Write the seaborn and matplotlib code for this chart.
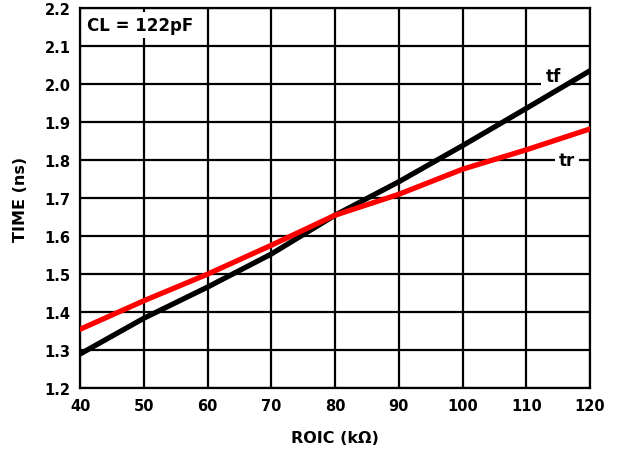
import numpy as np
import pandas as pd
import seaborn as sns
import matplotlib.pyplot as plt

# ROIC (kOhm) and rise / fall times (ns)
roic = [40, 50, 60, 70, 80, 90, 100, 110, 120]
tf = [1.29, 1.384, 1.466, 1.553, 1.655, 1.743, 1.838, 1.936, 2.035]
tr = [1.355, 1.43, 1.50, 1.576, 1.655, 1.71, 1.776, 1.827, 1.882]

df = pd.DataFrame({
    'ROIC': roic * 2,
    'TIME': tf + tr,
    'curve': ['tf'] * len(roic) + ['tr'] * len(roic),
})

sns.set_style('white')
plt.rcParams['font.family'] = ['DejaVu Sans']
plt.rcParams['text.color'] = 'black'
plt.rcParams['axes.labelcolor'] = 'black'
plt.rcParams['xtick.color'] = 'black'
plt.rcParams['ytick.color'] = 'black'

fig = plt.figure(figsize=(6.31, 4.52), dpi=100)
ax = fig.add_axes([0.127, 0.139, 0.808, 0.841])

sns.lineplot(data=df, x='ROIC', y='TIME', hue='curve',
             palette={'tf': 'black', 'tr': '#ff0000'},
             linewidth=3.8, legend=False, ax=ax, zorder=3)

ax.set_xlim(40, 120)
ax.set_ylim(1.2, 2.2)
ax.set_xticks(np.arange(40, 121, 10))
ax.set_yticks(np.round(np.arange(1.2, 2.21, 0.1), 1))
ax.set_yticklabels([f'{v:.1f}' for v in np.arange(1.2, 2.21, 0.1)])
ax.grid(True, color='black', linewidth=1.6)
ax.set_axisbelow(True)
for s in ax.spines.values():
    s.set_color('black')
    s.set_linewidth(1.6)
ax.tick_params(length=0, pad=7, labelsize=10.5)
for lab in ax.get_xticklabels() + ax.get_yticklabels():
    lab.set_fontweight('bold')

ax.set_xlabel('ROIC (k\u03a9)', fontsize=11.5, fontweight='bold', labelpad=12)
ax.set_ylabel('TIME (ns)', fontsize=11.5, fontweight='bold', labelpad=12)

# curve labels and the condition box
box = dict(facecolor='white', edgecolor='none', pad=3)
ax.text(114.2, 2.021, 'tf', fontsize=12, fontweight='bold', ha='center', va='center', bbox=box, zorder=2)
ax.text(116.4, 1.80, 'tr', fontsize=12, fontweight='bold', ha='center', va='center', bbox=box, zorder=2)
ax.text(41.1, 2.155, 'CL = 122pF', fontsize=12, fontweight='bold', ha='left', va='center', bbox=box, zorder=2)

fig.savefig('out.png', dpi=100)
